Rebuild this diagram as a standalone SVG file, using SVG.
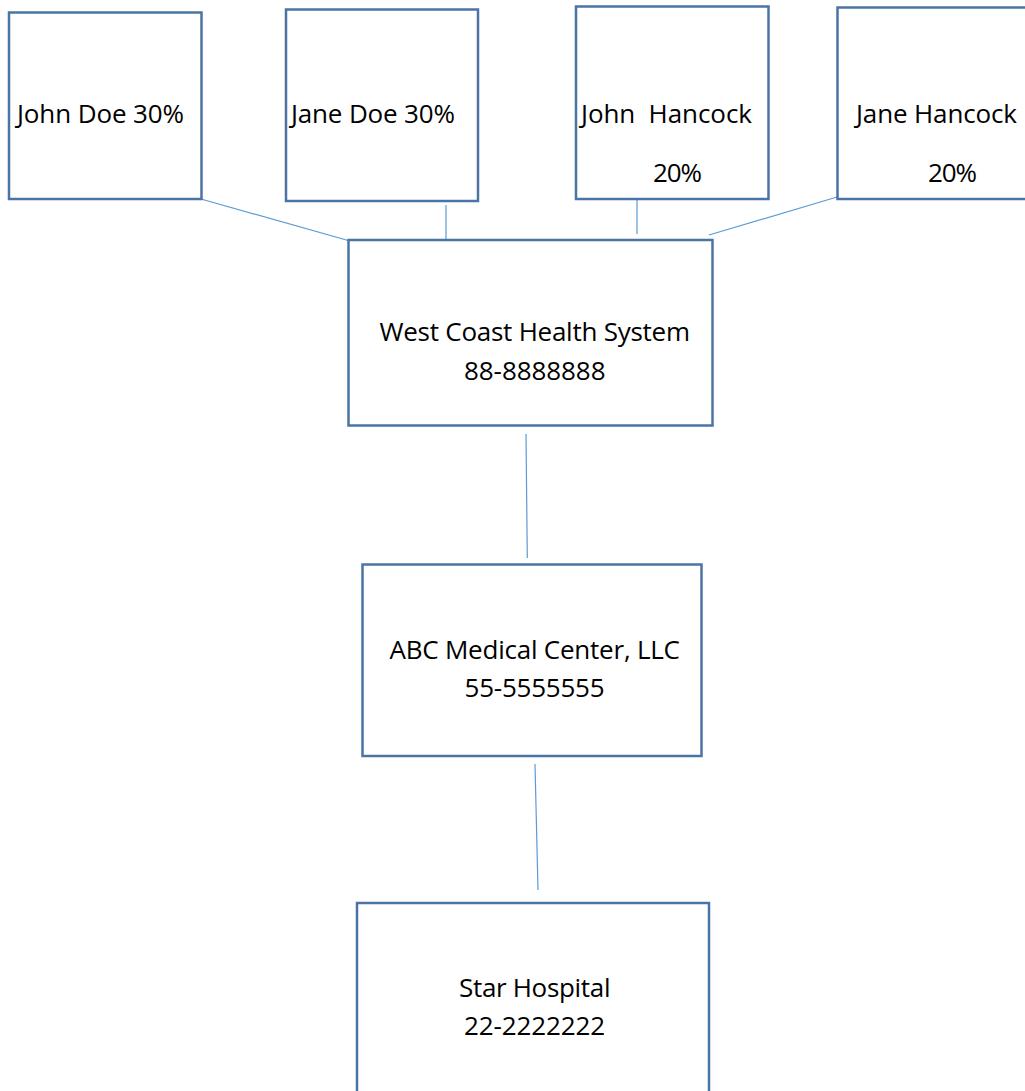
<svg xmlns="http://www.w3.org/2000/svg" width="1025" height="1091" viewBox="0 0 1025 1091">
<style>
.box{fill:#ffffff;stroke:#4a74a5;stroke-width:2.5}
.conn{stroke:#5b9bd5;stroke-width:1.2;fill:none}
.t{font-family:"Open Sans","Noto Sans",sans-serif;font-size:26px;fill:#000000}
</style>
<rect width="1025" height="1091" fill="#ffffff"/>
<g id="connectors">
<line class="conn" x1="201" y1="199" x2="357" y2="243"/>
<line class="conn" x1="446" y1="205" x2="446" y2="239"/>
<line class="conn" x1="637" y1="195" x2="637" y2="234"/>
<line class="conn" x1="837" y1="197" x2="709" y2="235"/>
<line class="conn" x1="526" y1="434" x2="527.3" y2="558"/>
<line class="conn" x1="535" y1="764" x2="538" y2="890"/>
</g>
<g id="john-doe">
<rect class="box" x="9" y="12.5" width="192.5" height="186.5"/>
<text class="t" x="17" y="123" textLength="167">John Doe 30%</text>
</g>
<g id="jane-doe">
<rect class="box" x="286" y="9.5" width="192" height="191.5"/>
<text class="t" x="291" y="123" textLength="164">Jane Doe 30%</text>
</g>
<g id="john-hancock">
<rect class="box" x="576" y="6.5" width="192.5" height="192.5"/>
<text class="t" x="581" y="123" textLength="171" xml:space="preserve">John  Hancock</text>
<text class="t" x="653" y="182" textLength="49">20%</text>
</g>
<g id="jane-hancock">
<rect class="box" x="837.5" y="7.5" width="200" height="191.5"/>
<text class="t" x="856" y="123" textLength="161">Jane Hancock</text>
<text class="t" x="928" y="182" textLength="49">20%</text>
</g>
<g id="west-coast">
<rect class="box" x="348.5" y="240" width="364" height="185.5"/>
<text class="t" x="379.5" y="341" textLength="310.5">West Coast Health System</text>
<text class="t" x="464" y="379.5" textLength="141.5">88-8888888</text>
</g>
<g id="abc-medical">
<rect class="box" x="362.5" y="564.5" width="339" height="191.5"/>
<text class="t" x="389.5" y="658.5" textLength="290.5">ABC Medical Center, LLC</text>
<text class="t" x="464.5" y="696.5" textLength="140">55-5555555</text>
</g>
<g id="star-hospital">
<rect class="box" x="357" y="903" width="352" height="200"/>
<text class="t" x="459" y="996.5" textLength="151.5">Star Hospital</text>
<text class="t" x="464" y="1035" textLength="141">22-2222222</text>
</g>
</svg>
